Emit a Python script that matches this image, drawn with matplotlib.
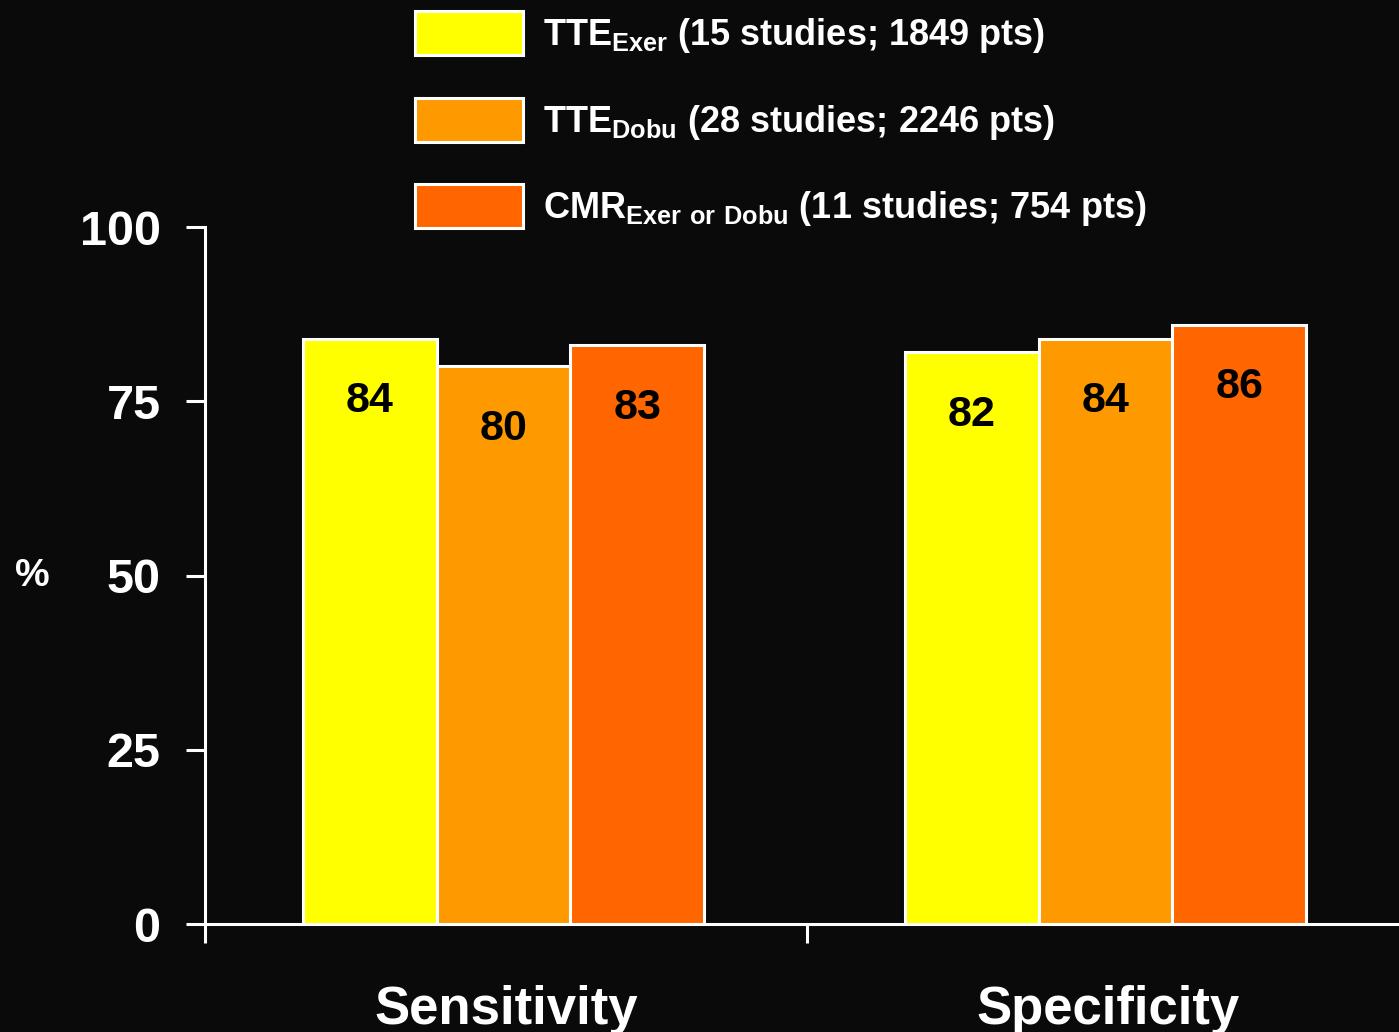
import matplotlib
matplotlib.use("Agg")
import matplotlib.pyplot as plt
import numpy as np

categories = ["Sensitivity", "Specificity"]
series_labels = [
    r"TTE$_{Exer}$ (15 studies; 1849 pts)",
    r"TTE$_{Dobu}$ (28 studies; 2246 pts)",
    r"CMR$_{Exer\ or\ Dobu}$ (11 studies; 754 pts)",
]
tte_exer = [84, 82]
tte_dobu = [80, 84]
cmr = [83, 86]
yticks = [0, 25, 50, 75, 100]
colors = ["#FFFF00", "#FF9900", "#FF6600"]

plt.rcParams["font.family"] = ["Liberation Sans", "DejaVu Sans"]
plt.rcParams["font.weight"] = "bold"
plt.rcParams["mathtext.fontset"] = "custom"
plt.rcParams["mathtext.bf"] = "Liberation Sans:bold"
plt.rcParams["mathtext.rm"] = "Liberation Sans:bold"
plt.rcParams["mathtext.default"] = "bf"

bg = "#0a0a0a"
fig = plt.figure(figsize=(13.99, 10.32), dpi=100, facecolor=bg)
ax = fig.add_axes([205 / 1399, 1 - 924 / 1032, 1 - 205 / 1399, (924 - 227) / 1032])
ax.set_facecolor(bg)

x = np.arange(len(categories))
width = 0.222
offsets = [-width, 0, width]
shift = -0.004
bars = []
for vals, off, col, lab in zip([tte_exer, tte_dobu, cmr], offsets, colors, series_labels):
    b = ax.bar(x + off + shift, vals, width, color=col, edgecolor="white", linewidth=2.2, label=lab, zorder=2)
    bars.append(b)
    for rect, v in zip(b, vals):
        ax.annotate(f"{v}", (rect.get_x() + rect.get_width() / 2, v), xytext=(0, -45),
                    textcoords="offset points", ha="center", va="center",
                    fontsize=31, fontweight="bold", color="black", zorder=3)

ax.set_yticks(yticks)
ax.set_yticklabels([str(t) for t in yticks])
ax.tick_params(axis="y", colors="white", length=14, width=2.2, pad=18, labelsize=35)
ax.set_xticks([-0.5, 0.5, 1.5])
ax.set_xticklabels(["", "", ""])
ax.set_xticks(x, minor=True)
ax.set_xticklabels(categories, minor=True)
ax.tick_params(axis="x", which="major", colors="white", length=14, width=2.2)
ax.tick_params(axis="x", which="minor", length=0, pad=44, labelsize=38, labelcolor="white")
ax.set_ylim(0, 100)
ax.set_xlim(-0.5, -0.5 + 1194 / 602)

for s in ["top", "right"]:
    ax.spines[s].set_visible(False)
for s in ["left", "bottom"]:
    ax.spines[s].set_color("white")
    ax.spines[s].set_linewidth(2.2)

ax.set_ylabel("%", rotation=0, color="white", fontsize=28, fontweight="bold", va="center", ha="center")
ax.yaxis.set_label_coords(-0.1449, 0.5)

leg = fig.legend(handles=bars, labels=series_labels, loc="upper left",
                 bbox_to_anchor=(415 / 1399, 1 - 11 / 1032), frameon=False,
                 fontsize=26, handlelength=3.0, handleheight=1.5, labelspacing=1.18,
                 handletextpad=0.55, borderpad=0, borderaxespad=0)
for t in leg.get_texts():
    t.set_color("white")

fig.savefig("out.png", dpi=100, facecolor=bg)
